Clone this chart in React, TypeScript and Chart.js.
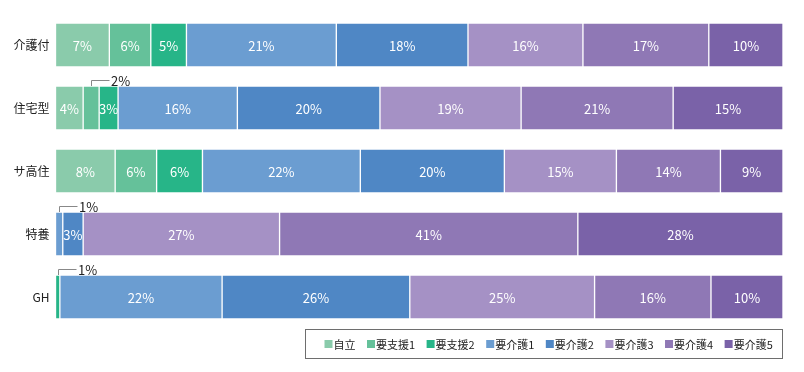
import React, { useEffect, useRef } from "react";
import { Chart, registerables } from "chart.js";

Chart.register(...registerables);

const categories = ["介護付", "住宅型", "サ高住", "特養", "GH"];
const seriesNames = ["自立", "要支援1", "要支援2", "要介護1", "要介護2", "要介護3", "要介護4", "要介護5"];
const jiritsu = [7.4, 3.8, 8.2, 0, 0];
const shien1 = [5.7, 2.2, 5.7, 0, 0];
const shien2 = [4.9, 2.6, 6.3, 0, 0.6];
const kaigo1 = [20.6, 16.4, 21.7, 1.0, 22.3];
const kaigo2 = [18.1, 19.6, 19.8, 2.8, 25.8];
const kaigo3 = [15.8, 19.4, 15.4, 27.0, 25.4];
const kaigo4 = [17.3, 20.9, 14.3, 41.0, 16.0];
const kaigo5 = [10.2, 15.1, 8.6, 28.2, 9.9];
const seriesValues = [jiritsu, shien1, shien2, kaigo1, kaigo2, kaigo3, kaigo4, kaigo5];
const colors = ["#8acbab", "#65c19a", "#27b588", "#6b9dd1", "#4f87c5", "#a591c5", "#8f78b5", "#7a62a8"];

const FONT = "'Noto Sans CJK JP', 'Noto Sans', sans-serif";

const labelPlugin = {
  id: "segLabels",
  afterDatasetsDraw(chart: any) {
    const ctx = chart.ctx;
    ctx.save();
    chart.data.datasets.forEach((ds: any, di: number) => {
      const meta = chart.getDatasetMeta(di);
      meta.data.forEach((el: any, i: number) => {
        const v = ds.data[i];
        if (!v || v <= 0) return;
        const r = Math.round(v);
        const cx = (el.x + el.base) / 2;
        const h = el.height;
        ctx.font = `13px ${FONT}`;
        ctx.textBaseline = "middle";
        if (r >= 3) {
          ctx.fillStyle = "#ffffff";
          ctx.textAlign = "center";
          ctx.fillText(`${r}%`, cx, el.y + 1);
        } else {
          const top = el.y - h / 2;
          const ly = top - 6.5;
          ctx.strokeStyle = "#888888";
          ctx.lineWidth = 1;
          ctx.beginPath();
          ctx.moveTo(Math.round(cx) + 0.5, top);
          ctx.lineTo(Math.round(cx) + 0.5, Math.round(ly) + 0.5);
          ctx.lineTo(Math.round(cx) + 18.5, Math.round(ly) + 0.5);
          ctx.stroke();
          ctx.fillStyle = "#222222";
          ctx.textAlign = "left";
          ctx.fillText(`${r}%`, Math.round(cx) + 20, Math.round(ly) + 1);
        }
      });
    });
    ctx.restore();
  },
};

const legendPlugin = {
  id: "boxLegend",
  afterDraw(chart: any) {
    const ctx = chart.ctx;
    ctx.save();
    ctx.strokeStyle = "#6e6e6e";
    ctx.lineWidth = 1;
    ctx.strokeRect(305.5, 329.5, 477, 29);
    ctx.font = `11px ${FONT}`;
    ctx.textBaseline = "middle";
    ctx.textAlign = "left";
    let x = 324.5;
    const cy = 344;
    chart.data.datasets.forEach((ds: any) => {
      ctx.fillStyle = ds.backgroundColor;
      ctx.fillRect(x, cy - 4, 8, 8);
      ctx.fillStyle = "#222222";
      ctx.fillText(ds.label, x + 9, cy + 0.5);
      const w = ctx.measureText(ds.label).width;
      x += 9 + w + 11.5;
    });
    ctx.restore();
  },
};

export default function App() {
  const ref = useRef<HTMLCanvasElement | null>(null);
  useEffect(() => {
    if (!ref.current) return;
    const chart = new Chart(ref.current, {
      type: "bar",
      data: {
        labels: categories,
        datasets: seriesNames.map((name, i) => ({
          label: name,
          data: seriesValues[i],
          backgroundColor: colors[i],
          borderColor: "rgba(255,255,255,0.18)",
          borderWidth: 1,
          borderSkipped: false,
          barThickness: 44,
        })),
      },
      options: {
        indexAxis: "y",
        responsive: false,
        animation: false,
        layout: { padding: { left: 0, right: 21, top: 13.5, bottom: 43.5 } },
        plugins: { legend: { display: false }, tooltip: { enabled: false } },
        scales: {
          x: { stacked: true, min: 0, max: 100, display: false },
          y: {
            stacked: true,
            grid: { display: false, drawTicks: false },
            border: { display: false },
            ticks: { color: "#222222", font: { size: 12, family: FONT }, padding: 6 },
            afterFit: (scale: any) => {
              scale.width = 55.5;
            },
          },
        },
      } as any,
      plugins: [labelPlugin, legendPlugin],
    });
    return () => chart.destroy();
  }, []);
  return (
    <div style={{ position: "absolute", left: 0, top: 0, width: 804, height: 372, background: "#fff" }}>
      <canvas ref={ref} width={804} height={372} />
    </div>
  );
}
